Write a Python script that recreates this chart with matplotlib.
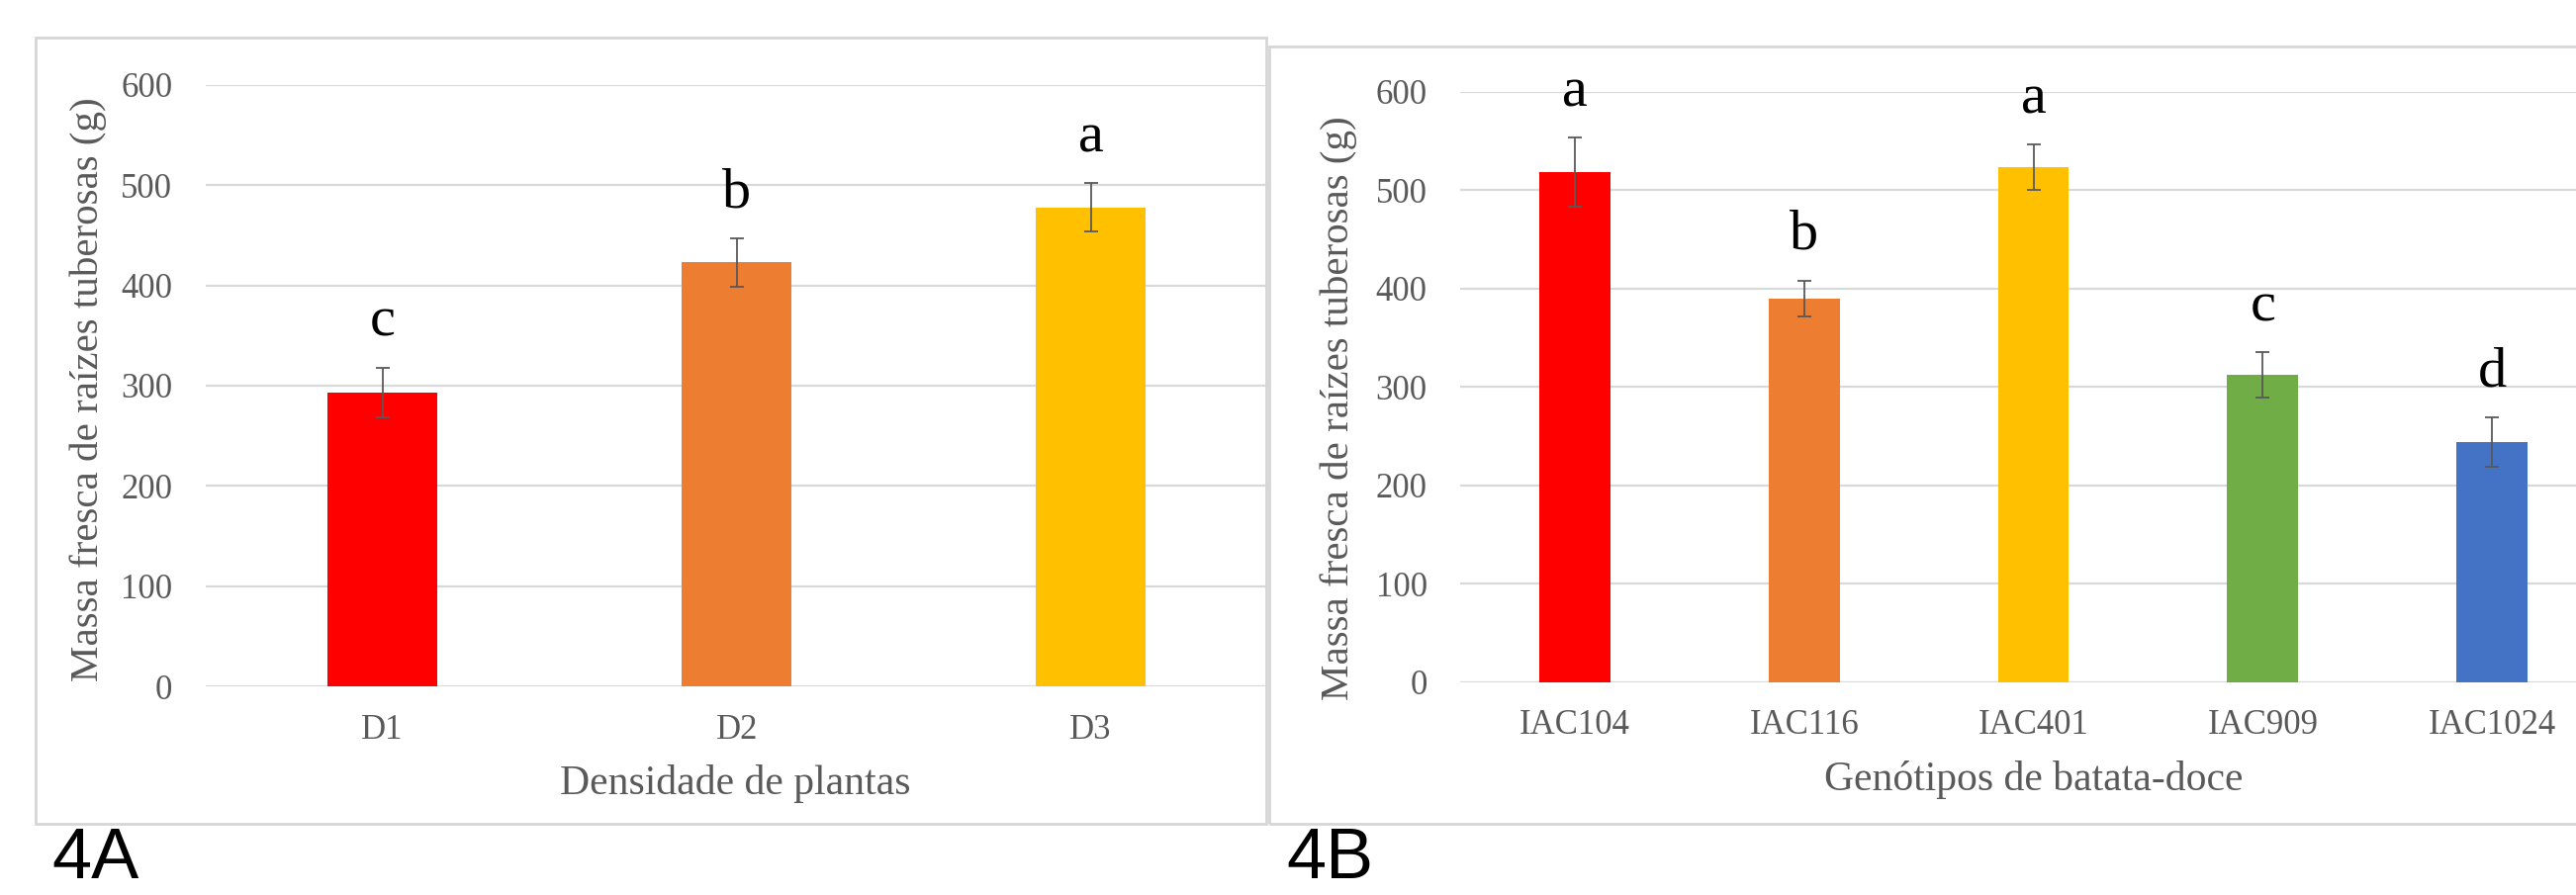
import matplotlib
matplotlib.use("Agg")
import matplotlib.pyplot as plt
from matplotlib.patches import Rectangle

W, H = 2604, 905                 # output size in px (dpi 100)

# ---- data ----
dens_labels = ["D1", "D2", "D3"]
dens_mean = [293, 423, 478]
dens_err = [25, 24, 24]
dens_letters = ["c", "b", "a"]

gen_labels = ["IAC104", "IAC116", "IAC401", "IAC909", "IAC1024"]
gen_mean = [518, 390, 523, 312, 244]
gen_err = [35, 18, 23, 23, 25]
gen_letters = ["a", "b", "a", "c", "d"]

colors = ["#FF0000", "#ED7D31", "#FFC000", "#70AD47", "#4472C4"]
GRAY = "#595959"
SERIF = "Liberation Serif"
YLABEL = "Massa fresca de raízes tuberosas (g)"

def px_box(x0, y0, x1, y1):
    # pixel box (top-left origin) -> figure fraction [l, b, w, h]
    return [x0 / W, (H - y1) / H, (x1 - x0) / W, (y1 - y0) / H]

fig = plt.figure(figsize=(W / 100, H / 100), dpi=100)

# panel frames (Excel chart areas)
for x0, y0, x1, y1 in [(36, 38, 1280, 833), (1283, 47, 2700, 833)]:
    l, b, w, h = px_box(x0, y0, x1, y1)
    fig.add_artist(Rectangle((l, b), w, h, transform=fig.transFigure,
                             fill=False, ec="#d6d6d6", lw=2))

def panel(rect, labels, mean, err, letters):
    ax = fig.add_axes(rect)
    x = list(range(len(labels)))
    ax.bar(x, mean, width=0.31, color=colors[:len(labels)], zorder=2)
    ax.errorbar(x, mean, yerr=err, fmt="none", ecolor=GRAY, elinewidth=1.3,
                capsize=5, capthick=1.3, zorder=3)
    for xi, m, e, t in zip(x, mean, err, letters):
        ax.annotate(t, (xi, m + e), xytext=(0, 23), textcoords="offset points",
                    ha="center", va="baseline", fontsize=42, family=SERIF,
                    color="black", annotation_clip=False)
    ax.set_xlim(-0.5, len(labels) - 0.5)
    ax.set_ylim(0, 600)
    ax.set_yticks(range(0, 601, 100))
    ax.set_xticks(x)
    ax.set_xticklabels(labels)
    ax.grid(axis="y", color="#d9d9d9", lw=1.6, zorder=0)
    ax.set_axisbelow(True)
    for s in ax.spines.values():
        s.set_visible(False)
    ax.tick_params(length=0, labelsize=25, labelcolor=GRAY)
    ax.tick_params(axis="y", pad=24)
    ax.tick_params(axis="x", pad=20)
    for lab in ax.get_xticklabels() + ax.get_yticklabels():
        lab.set_family(SERIF)
    ax.patch.set_alpha(0)
    return ax

panel(px_box(207.6, 86, 1281.7, 694), dens_labels, dens_mean, dens_err, dens_letters)
panel(px_box(1476, 92.7, 2635, 689.7), gen_labels, gen_mean, gen_err, gen_letters)

# axis titles
fig.text(89 / W, 1 - 394 / H, YLABEL, rotation=90, ha="center", va="center",
         fontsize=29.5, family=SERIF, color=GRAY)
fig.text(1353 / W, 1 - 413 / H, YLABEL, rotation=90, ha="center", va="center",
         fontsize=29.5, family=SERIF, color=GRAY)
fig.text(743 / W, 1 - 803 / H, "Densidade de plantas", ha="center", va="baseline",
         fontsize=30, family=SERIF, color=GRAY)
fig.text(2056 / W, 1 - 799 / H, "Genótipos de batata-doce", ha="center", va="baseline",
         fontsize=30, family=SERIF, color=GRAY)

# panel tags below the frames
fig.text(52 / W, 1 - 888 / H, "4A", ha="left", va="baseline", fontsize=52,
         family="Liberation Sans", color="black")
fig.text(1300 / W, 1 - 888 / H, "4B", ha="left", va="baseline", fontsize=52,
         family="Liberation Sans", color="black")

fig.savefig("out.png", dpi=100)
